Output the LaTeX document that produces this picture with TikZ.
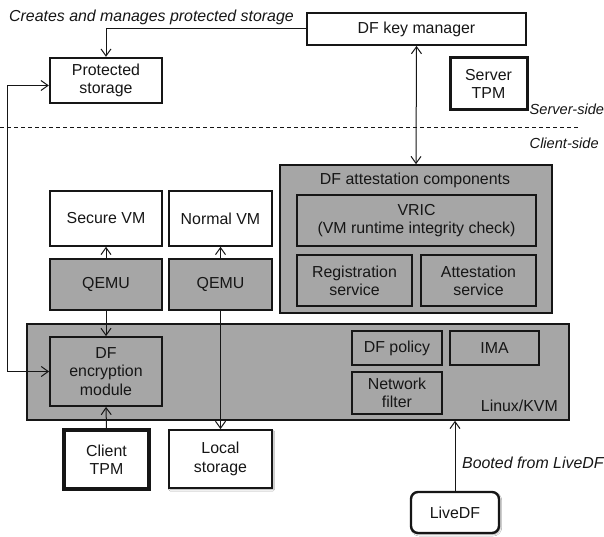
\documentclass[tikz,border=0pt]{standalone}
\usepackage{fontspec}
\setmainfont{Liberation Sans}
\usetikzlibrary{arrows.meta,shadows.blur}
\definecolor{boxgray}{RGB}{166,166,166}
\definecolor{ink}{RGB}{22,22,22}

\begin{document}
\begin{tikzpicture}[x=1pt,y=-1pt,
  font=\fontsize{15.9}{18.3}\selectfont,
  >={Straight Barb[length=7pt,width=10pt]},
  sz/.style 2 args={minimum width=#1pt, minimum height=#2pt},
  box/.style={draw=ink, line width=1.8pt, fill=white, align=center,
    inner sep=0pt, text=ink},
  graybox/.style={box, fill=boxgray},
  thickbox/.style={box, line width=3pt},
  shadowed/.style={blur shadow={shadow xshift=1.2pt, shadow yshift=-1.5pt,
    shadow opacity=35, shadow blur steps=4, shadow blur radius=1.5pt}},
  conn/.style={draw=ink, line width=1pt},
  note/.style={font=\fontsize{15.9}{18.3}\selectfont\itshape, text=ink,
    inner sep=0pt},
  sidenote/.style={note, font=\fontsize{14.6}{17}\selectfont\itshape}
]
\useasboundingbox (0,0) rectangle (604,537);
\clip (0,0) rectangle (604,537);
\fill[white] (0,0) rectangle (604,537);

% server side
\node[box, sz={219}{32}] (keymgr) at (416.5,29) {DF key manager};
\node[box, line width=2.4pt, sz={112}{45}] (prot) at (106,80.5) {Protected\\storage};
\node[thickbox, sz={77}{52}] (srvtpm) at (488.5,84) {Server\\TPM};
\node[note, anchor=west] (creates) at (9,17) {Creates and manages protected storage};
\node[sidenote, anchor=west] (srvside) at (529.5,109) {Server-side};
\node[sidenote, anchor=west] (clside) at (529.5,143) {Client-side};

% server / client separator
\coordinate (sepL) at (0,128);
\coordinate (sepR) at (578,128);
\draw[ink, line width=1pt, dash pattern=on 4pt off 3pt] (sepL) -- (sepR);

% attestation components
\node[graybox, line width=1.6pt, sz={272}{148}] (attest) at (416,239) {};
\node[text=ink, inner sep=0pt] (attitle) at (415,180) {DF attestation components};
\node[graybox, sz={239}{51}] (vric) at (416.5,220.5) {VRIC\\(VM runtime integrity check)};
\node[graybox, sz={115}{51}] (reg) at (354.5,280.5) {Registration\\service};
\node[graybox, sz={115}{51}] (att) at (478.5,280.5) {Attestation\\service};

% virtual machines
\node[box, line width=1.6pt, sz={112}{55}] (secvm) at (106,218.5) {Secure VM};
\node[box, line width=1.6pt, sz={103}{55}] (normvm) at (220.5,218.5) {Normal VM};
\node[graybox, line width=1.6pt, sz={112}{51}] (qemuA) at (106,284.5) {QEMU};
\node[graybox, line width=1.6pt, sz={103}{51}] (qemuB) at (220.5,284.5) {QEMU};

% host
\node[graybox, line width=1.6pt, sz={542}{96}] (linux) at (298,372) {};
\node[text=ink, inner sep=0pt, anchor=east] (linuxlbl) at (558,406) {Linux/KVM};
\node[graybox, sz={112}{69}] (dfenc) at (106,371.5) {DF\\encryption\\module};
\node[graybox, sz={90}{34}] (dfpol) at (397,348) {DF policy};
\node[graybox, sz={89}{34}] (ima) at (494.5,348) {IMA};
\node[graybox, sz={90}{42}] (netf) at (397,393) {Network\\filter};

% hardware and boot medium
\node[thickbox, line width=3.4pt, sz={85}{59}] (clitpm) at (106.5,459.5) {Client\\TPM};
\node[box, shadowed, sz={103}{58}] (local) at (220.5,459) {Local\\storage};
\node[box, shadowed, line width=2.4pt, rounded corners=7pt, sz={88}{41}] (livedf) at (455,512.5) {LiveDF};
\node[note, anchor=west] (booted) at (462,463) {Booted from LiveDF};

% connectors
\coordinate (loopx) at (7,0);
\draw[conn,->] (keymgr.west) -| (prot.north);
\draw[conn,<->] (keymgr.south) -- (attest.north);
\draw[conn,<->] ([yshift=-5pt]prot.west) -- ([yshift=-5pt]prot.west -| loopx) |- (dfenc.west);
\draw[conn,->] (qemuA.north) -- (secvm.south);
\draw[conn,->] (qemuB.north) -- (normvm.south);
\draw[conn,->] (qemuA.south) -- (dfenc.north);
\draw[conn,->] (qemuB.south) -- (local.north);
\draw[conn,->] (clitpm.north) -- (dfenc.south);
\draw[conn,->] (livedf.north) -- (livedf.north |- linux.south);
\end{tikzpicture}
\end{document}
